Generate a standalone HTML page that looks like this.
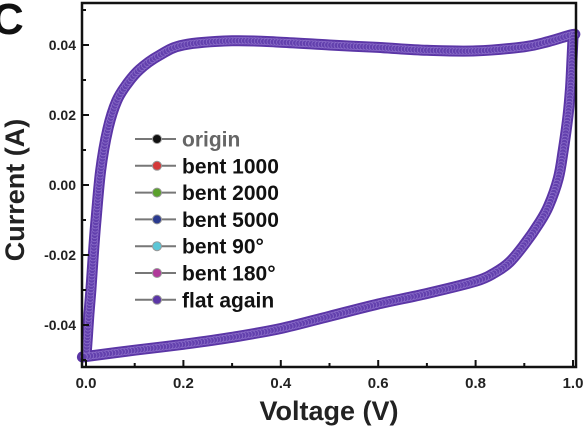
<!DOCTYPE html>
<html><head><meta charset="utf-8"><style>
body{margin:0;background:#fff;}
svg{display:block;font-family:"Liberation Sans",Arial,sans-serif;font-weight:bold;}
</style></head><body>
<svg id="chart" width="586" height="431" viewBox="0 0 586 431" xmlns="http://www.w3.org/2000/svg">
<text x="-8" y="34" font-size="44" fill="#111">C</text>
<g id="plot"></g>
<rect x="82" y="3" width="494" height="364" fill="none" stroke="#111" stroke-width="2.5"/>
<g id="axes"></g>
<text transform="translate(24,190) rotate(-90)" text-anchor="middle" font-size="27" fill="#222">Current (A)</text>
<text x="329" y="420" text-anchor="middle" font-size="27" fill="#222">Voltage (V)</text>
<g id="legend"></g>
</svg>
<script>
const xTicks=[0.0,0.2,0.4,0.6,0.8,1.0];
const xTickLabels=["0.0","0.2","0.4","0.6","0.8","1.0"];
const yTicks=[0.04,0.02,0.00,-0.02,-0.04];
const yTickLabels=["0.04","0.02","0.00","-0.02","-0.04"];
const upperV=[0.0,0.003,0.006,0.01,0.015,0.02,0.03,0.045,0.063,0.085,0.11,0.15,0.2,0.3,0.4,0.5,0.6,0.7,0.8,0.9,0.95,1.0];
const upperI=[-0.049,-0.043,-0.037,-0.03,-0.02,-0.011,0.004,0.016,0.024,0.029,0.033,0.037,0.040,0.0412,0.0408,0.0400,0.0393,0.0385,0.0383,0.0395,0.041,0.043];
const lowerV=[1.0,0.998,0.995,0.99,0.98,0.97,0.95,0.93,0.9,0.87,0.84,0.8,0.7,0.6,0.5,0.4,0.3,0.2,0.1,0.0];
const lowerI=[0.042,0.036,0.028,0.02,0.01,0.002,-0.006,-0.011,-0.017,-0.022,-0.025,-0.0275,-0.031,-0.034,-0.0375,-0.041,-0.0435,-0.0455,-0.0472,-0.049];
const seriesNames=["origin","bent 1000","bent 2000","bent 5000","bent 90°","bent 180°","flat again"];
const seriesColors=["#111","#d43a3a","#5aa02c","#2a3a8f","#5cc6d6","#b03a9a","#5b36a6"];
const NS="http://www.w3.org/2000/svg";
const xs=v=>86+v*487, ys=i=>185-i*3500;
function mk(t,a,p){const e=document.createElementNS(NS,t);for(const k in a)e.setAttribute(k,a[k]);p.appendChild(e);return e;}
const plot=document.getElementById('plot'),axes=document.getElementById('axes'),leg=document.getElementById('legend');
const pts=[];
upperV.forEach((v,k)=>pts.push([xs(v),ys(upperI[k])]));
lowerV.forEach((v,k)=>pts.push([xs(v),ys(lowerI[k])]));
pts.push(pts[0]);
function smooth(P){let s='M'+P[0][0]+','+P[0][1];
 for(let i=0;i<P.length-1;i++){const p0=P[Math.max(i-1,0)],p1=P[i],p2=P[i+1],p3=P[Math.min(i+2,P.length-1)];
  const c1=[p1[0]+(p2[0]-p0[0])/6,p1[1]+(p2[1]-p0[1])/6],c2=[p2[0]-(p3[0]-p1[0])/6,p2[1]-(p3[1]-p1[1])/6];
  s+=`C${c1[0].toFixed(1)},${c1[1].toFixed(1)} ${c2[0].toFixed(1)},${c2[1].toFixed(1)} ${p2[0].toFixed(1)},${p2[1].toFixed(1)}`;}
 return s;}
const d=smooth(pts);
const offs=[[1,2],[0,1],[0,-2],[0,1],[0,-1],[0,0],[0,0]];
let main;
seriesColors.forEach((c,s)=>{
 const p=mk('path',{d:d,fill:'none',stroke:c,'stroke-width':s==6?11:4,'stroke-linejoin':'round',transform:`translate(${offs[s][0]},${offs[s][1]})`},plot);
 
 
 main=p;
});
const L=main.getTotalLength();
for(let l=0;l<L;l+=3.2){const q=main.getPointAtLength(l);
 const c=mk('circle',{cx:q.x.toFixed(1),cy:q.y.toFixed(1),r:3.3,fill:'#6240ad',stroke:'#8a6cc8','stroke-width':0.8},plot);
 
 }
xTicks.forEach((v,k)=>{const x=xs(v);
 mk('line',{x1:x,y1:367,x2:x,y2:360,stroke:'#111','stroke-width':2},axes);
 if(k<xTicks.length-1)mk('line',{x1:xs(v+0.1),y1:367,x2:xs(v+0.1),y2:363,stroke:'#111','stroke-width':2},axes);
 const t=mk('text',{x:x,y:388,'text-anchor':'middle','font-size':15,fill:'#222'},axes);t.textContent=xTickLabels[k];
 
 });
yTicks.forEach((v,k)=>{const y=ys(v);
 mk('line',{x1:82,y1:y,x2:89,y2:y,stroke:'#111','stroke-width':2},axes);
 mk('line',{x1:82,y1:ys(v+0.01),x2:86,y2:ys(v+0.01),stroke:'#111','stroke-width':2},axes);
 const t=mk('text',{x:76,y:y+5,'text-anchor':'end','font-size':14,fill:'#222'},axes);t.textContent=yTickLabels[k];
 
 });
mk('line',{x1:82,y1:ys(-0.05),x2:86,y2:ys(-0.05),stroke:'#111','stroke-width':2},axes);
seriesNames.forEach((n,k)=>{const y=139+k*26.8;
 const g=mk('g',{},leg);
 
 
 mk('line',{x1:135,y1:y,x2:176,y2:y,stroke:'#777','stroke-width':2},g);
 mk('circle',{cx:157,cy:y,r:4.5,fill:seriesColors[k],stroke:'#999','stroke-width':1},g);
 const t=mk('text',{x:182,y:y+7.5,'font-size':21,fill:k==0?'#666':'#111'},g);t.textContent=n;});
</script>
</body></html>
